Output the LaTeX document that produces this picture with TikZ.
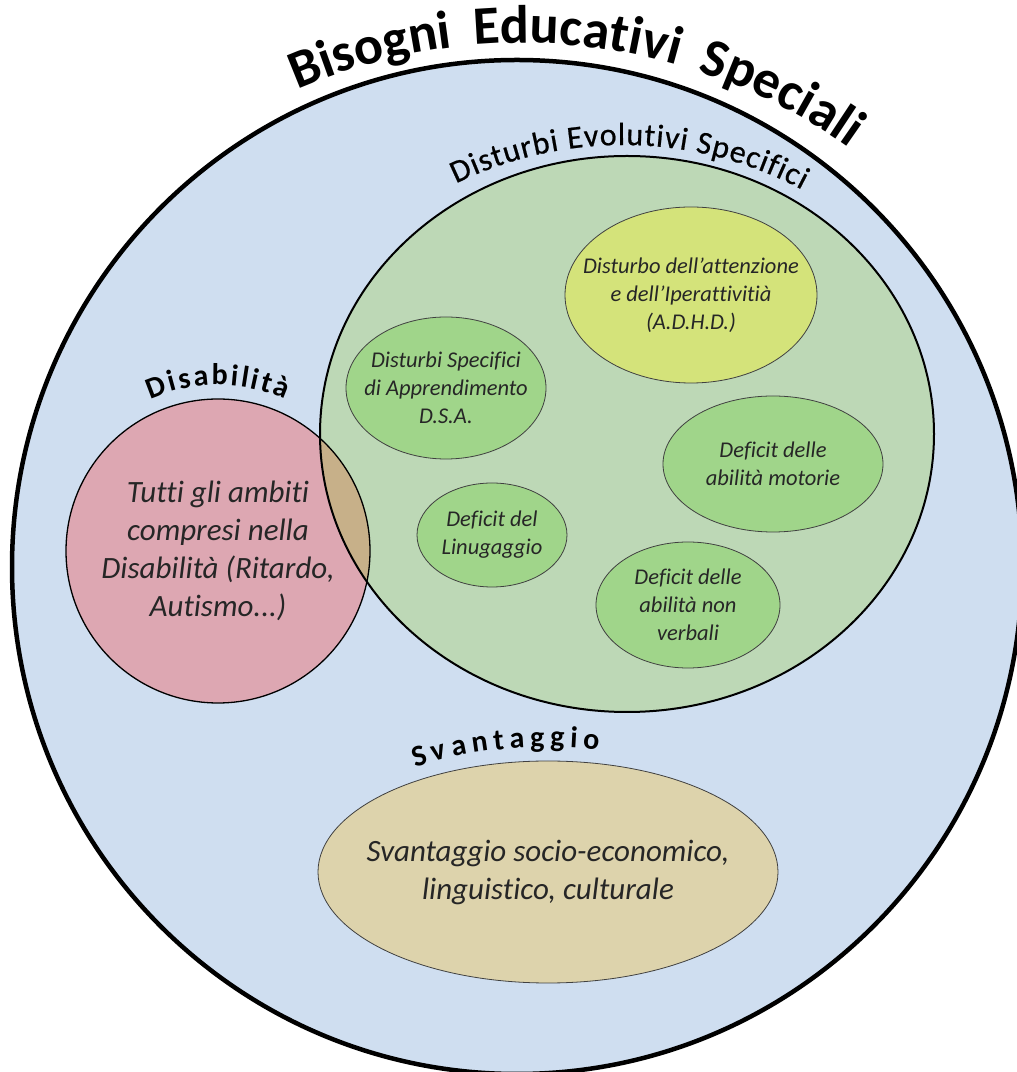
\documentclass[tikz,border=0pt]{standalone}
\usepackage{fontspec}
\setmainfont{Carlito}[Ligatures={TeX,CommonOff}]
\newfontfamily\medfont{Carlito}[FakeBold=0.6, Ligatures={TeX,CommonOff}]
\usetikzlibrary{decorations.text}

\definecolor{besblue}{RGB}{207,222,240}
\definecolor{devgreen}{RGB}{189,216,182}
\definecolor{subgreen}{RGB}{160,213,138}
\definecolor{adhdyellow}{RGB}{212,227,122}
\definecolor{disapink}{RGB}{221,167,178}
\definecolor{overlaptan}{RGB}{199,176,137}
\definecolor{svansand}{RGB}{221,211,172}

\newcommand{\titlearc}{\fontsize{54}{60}\selectfont\bfseries}
\newcommand{\setarc}{\medfont\fontsize{32}{36}\selectfont}
\newcommand{\boldarc}{\fontsize{30}{36}\selectfont\bfseries}

\begin{document}
\begin{tikzpicture}[x=1pt, y=1pt,
    subarea/.style={line width=0.8pt, draw=black!75},
    smalltext/.style={font=\itshape\fontsize{22.5}{28}\selectfont, align=center, text=black!85},
    bigtext/.style={font=\itshape\fontsize{31}{38}\selectfont, align=center, text=black!85}]
    \useasboundingbox (0,0) rectangle (1017,1072);

    % Bisogni Educativi Speciali
    \draw[line width=4.5pt, fill=besblue] (517,505) ellipse [x radius=505pt, y radius=507pt];
    \fill[devgreen] (627,638) ellipse [x radius=307pt, y radius=278pt];

    % inner areas
    \draw[subarea, fill=adhdyellow] (691,777) ellipse [x radius=126pt, y radius=88pt];
    \draw[subarea, fill=subgreen] (446,684) ellipse [x radius=100pt, y radius=71pt];
    \draw[subarea, fill=subgreen] (773,608) ellipse [x radius=110pt, y radius=68pt];
    \draw[subarea, fill=subgreen] (492,537) ellipse [x radius=75pt, y radius=52pt];
    \draw[subarea, fill=subgreen] (688,467) ellipse [x radius=92pt, y radius=63pt];
    \draw[subarea, fill=svansand] (548,200) ellipse [x radius=230pt, y radius=111pt];

    % disabilita and its overlap
    \fill[disapink] (218,521) circle [radius=152pt];
    \begin{scope}
        \clip (627,638) ellipse [x radius=307pt, y radius=278pt];
        \fill[overlaptan] (218,521) circle [radius=152pt];
    \end{scope}
    \draw[line width=2pt] (627,638) ellipse [x radius=307pt, y radius=278pt];
    \draw[line width=1.3pt] (218,521) circle [radius=152pt];

    \node[smalltext] (adhd) at (691,777) {Disturbo dell'attenzione\\e dell'Iperattivitià\\(A.D.H.D.)};
    \node[smalltext] (dsa) at (446,684) {Disturbi Specifici\\di Apprendimento\\D.S.A.};
    \node[smalltext] (motorie) at (773,608) {Deficit delle\\abilità motorie};
    \node[smalltext] (linguaggio) at (492,537) {Deficit del\\Linugaggio};
    \node[smalltext] (nonverbali) at (688,467) {Deficit delle\\abilità non\\verbali};
    \node[bigtext] (disatext) at (218,521) {Tutti gli ambiti\\compresi nella\\Disabilità (Ritardo,\\Autismo...)};
    \node[bigtext] (svantext) at (548,200) {Svantaggio socio-economico,\\linguistico, culturale};

    % labels along the borders
    \path[decorate, decoration={text along path, text align={fit to path stretching spaces},
        text={|\titlearc|Bisogni Educativi Speciali}}]
        (522,465) ++(113.5:564pt) arc [start angle=113.5, end angle=54.5, radius=564pt];
    \path[decorate, decoration={text along path, text align={fit to path},
        text={|\setarc|Disturbi Evolutivi Specifici}}]
        (623,546) ++(116:381pt) arc [start angle=116, end angle=62, radius=381pt];
    \path[decorate, decoration={text along path, text align={fit to path},
        text={|\boldarc|Disabilità}}]
        (218,521) ++(114:166pt) arc [start angle=114, end angle=66, radius=166pt];
    \path[decorate, decoration={text along path, text align={fit to path},
        text={|\boldarc|Svantaggio}}]
        (548,200) ++(123:244pt and 125pt) arc [start angle=123, end angle=78, x radius=244pt, y radius=125pt];
\end{tikzpicture}
\end{document}
